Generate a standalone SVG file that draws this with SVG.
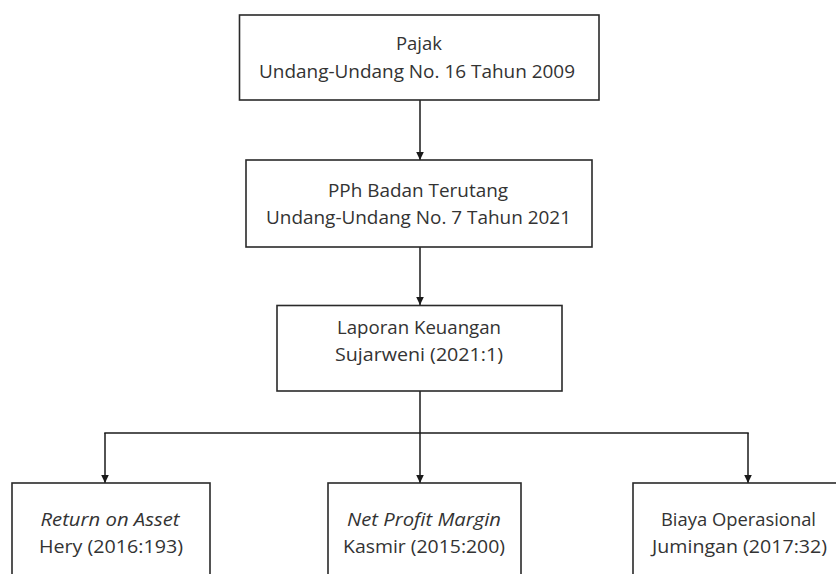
<svg xmlns="http://www.w3.org/2000/svg" width="836" height="574" viewBox="0 0 836 574">
<defs>
<marker id="arr" markerWidth="10" markerHeight="10" refX="9" refY="5" orient="auto" markerUnits="userSpaceOnUse">
<path d="M1,1.2 L9,5 L1,8.8 Z" fill="#1a1a1a"/>
</marker>
<style>
.box{fill:#fff;stroke:#2a2a2a;stroke-width:1.6}
.t{font-family:"Open Sans","Liberation Sans",sans-serif;font-size:19px;fill:#333;text-anchor:middle}
.i{font-style:italic}
.c{fill:none;stroke:#1a1a1a;stroke-width:1.5}
</style>
</defs>
<rect width="836" height="574" fill="#fff"/>
<g id="connectors">
<line class="c" x1="420" y1="100" x2="420" y2="160" marker-end="url(#arr)"/>
<line class="c" x1="420" y1="247" x2="420" y2="305" marker-end="url(#arr)"/>
<line class="c" x1="420" y1="391" x2="420" y2="433"/>
<line class="c" x1="104.25" y1="433" x2="748.75" y2="433"/>
<line class="c" x1="105" y1="433" x2="105" y2="483" marker-end="url(#arr)"/>
<line class="c" x1="420" y1="433" x2="420" y2="483" marker-end="url(#arr)"/>
<line class="c" x1="748" y1="433" x2="748" y2="483" marker-end="url(#arr)"/>
</g>
<g id="pajak">
<rect class="box" x="239.5" y="15" width="359.5" height="85"/>
<text class="t" x="419" y="50" textLength="46" lengthAdjust="spacingAndGlyphs">Pajak</text>
<text class="t" x="417" y="78" textLength="316" lengthAdjust="spacingAndGlyphs">Undang-Undang No. 16 Tahun 2009</text>
</g>
<g id="pph">
<rect class="box" x="246" y="160" width="346" height="87"/>
<text class="t" x="418" y="197" textLength="180" lengthAdjust="spacingAndGlyphs">PPh Badan Terutang</text>
<text class="t" x="418.5" y="224" textLength="305" lengthAdjust="spacingAndGlyphs">Undang-Undang No. 7 Tahun 2021</text>
</g>
<g id="laporan">
<rect class="box" x="277" y="305.5" width="285" height="85.5"/>
<text class="t" x="419" y="334" textLength="164" lengthAdjust="spacingAndGlyphs">Laporan Keuangan</text>
<text class="t" x="419" y="361" textLength="168" lengthAdjust="spacingAndGlyphs">Sujarweni (2021:1)</text>
</g>
<g id="roa">
<rect class="box" x="12" y="483" width="198" height="100"/>
<text class="t i" x="110" y="526" textLength="139" lengthAdjust="spacingAndGlyphs">Return on Asset</text>
<text class="t" x="111" y="553" textLength="144" lengthAdjust="spacingAndGlyphs">Hery (2016:193)</text>
</g>
<g id="npm">
<rect class="box" x="328" y="483" width="193" height="100"/>
<text class="t i" x="424" y="526" textLength="154" lengthAdjust="spacingAndGlyphs">Net Profit Margin</text>
<text class="t" x="424" y="553" textLength="162" lengthAdjust="spacingAndGlyphs">Kasmir (2015:200)</text>
</g>
<g id="biaya">
<rect class="box" x="633" y="483" width="213" height="100"/>
<text class="t" x="738.5" y="526" textLength="155" lengthAdjust="spacingAndGlyphs">Biaya Operasional</text>
<text class="t" x="739.5" y="553" textLength="175" lengthAdjust="spacingAndGlyphs">Jumingan (2017:32)</text>
</g>
</svg>
